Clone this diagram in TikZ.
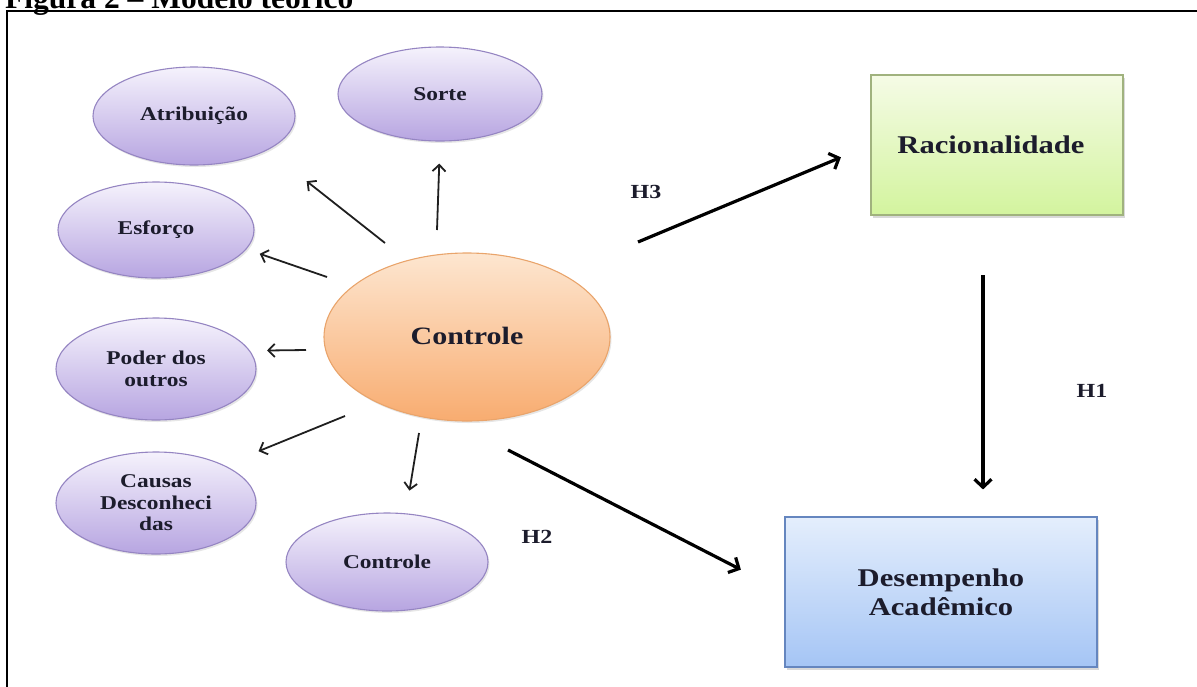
\documentclass[tikz,border=0pt]{standalone}
\usepackage{fontspec}
\setmainfont{Liberation Serif}[FakeStretch=1.2]
\newfontfamily\titlefont{Liberation Serif}
\usetikzlibrary{shapes.geometric,arrows.meta,shadows,calc}

\definecolor{ink}{HTML}{1C1C2C}
\definecolor{lavtop}{HTML}{F5F2FC}
\definecolor{lavbot}{HTML}{B7A5E1}
\definecolor{lavline}{HTML}{9585C2}
\definecolor{ortop}{HTML}{FDE6D0}
\definecolor{orbot}{HTML}{F8AC70}
\definecolor{orline}{HTML}{E9A46B}
\definecolor{grtop}{HTML}{F5FBE6}
\definecolor{grbot}{HTML}{D3F49E}
\definecolor{grline}{HTML}{A0B27E}
\definecolor{bltop}{HTML}{E4EEFC}
\definecolor{blbot}{HTML}{A5C5F5}
\definecolor{blline}{HTML}{6586BF}

\begin{document}
\begin{tikzpicture}[x=1pt,y=-1pt,
  factor/.style={ellipse, draw=lavline, line width=1.1pt,
    top color=lavtop, bottom color=lavbot,
    minimum width=200pt, minimum height=100pt, inner sep=0pt,
    align=center, text=ink, font=\fontsize{19.5}{21.5}\selectfont\bfseries,
    drop shadow={shadow xshift=1.5pt, shadow yshift=-2pt, opacity=0.2}},
  central/.style={ellipse, draw=orline, line width=1.1pt,
    top color=ortop, bottom color=orbot,
    minimum width=286pt, minimum height=168pt, inner sep=0pt,
    text=ink, font=\fontsize{25}{28}\selectfont\bfseries,
    drop shadow={shadow xshift=1.5pt, shadow yshift=-2pt, opacity=0.2}},
  construct/.style={rectangle, line width=1.1pt,
    minimum width=252pt, minimum height=140pt, inner sep=0pt,
    align=center, text=ink, font=\fontsize{25.5}{29}\selectfont\bfseries,
    drop shadow={shadow xshift=2pt, shadow yshift=-2.5pt, opacity=0.3}},
  hyp/.style={text=ink, font=\fontsize{20}{22}\selectfont\bfseries},
  thin/.style={draw=black!88, line width=1.8pt,
    -{Straight Barb[length=6.5pt,width=13pt,line width=1.8pt]}},
  thick/.style={draw=black, line width=3.2pt,
    -{Straight Barb[length=8pt,width=17pt,line width=3.2pt]}}
]
\useasboundingbox (0,0) rectangle (1197,686);
\clip (0,0) rectangle (1197,686);

% caption and frame
\node[anchor=base west, inner sep=0pt, text=black,
      font=\titlefont\fontsize{31.5}{34}\selectfont\bfseries] (title) at (5,8)
  {Figura 2 – Modelo teórico};
\draw[line width=2.6pt] (1205,11) -- (7,11) -- (7,695);

% locus-of-control factors
\node[factor, minimum width=204pt, minimum height=94pt] (sor) at (440,94) {Sorte};
\node[factor, minimum width=202pt, minimum height=98pt] (atr) at (194,116) {Atribuição};
\node[factor, minimum width=196pt, minimum height=96pt] (esf) at (156,230) {Esforço};
\node[factor, minimum height=102pt] (pod) at (156,369) {Poder dos\\outros};
\node[factor, minimum height=102pt] (cau) at (156,503) {Causas\\Desconheci\\das};
\node[factor, minimum width=202pt, minimum height=98pt] (csm) at (387,562) {Controle};

% central construct
\node[central] (ctl) at (467,337) {\raisebox{2pt}{Controle}};

% outcome constructs
\node[construct, draw=grline, top color=grtop, bottom color=grbot] (rac) at (997,145)
  {\hspace*{-12pt}Racionalidade};
\node[construct, draw=blline, top color=bltop, bottom color=blbot,
      minimum width=312pt, minimum height=150pt] (dsp) at (941,592)
  {Desempenho\\Acadêmico};

% arrow tails
\coordinate (tS) at (437,230);
\coordinate (tA) at (385,243);
\coordinate (tE) at (327,277);
\coordinate (tP) at (306,350);
\coordinate (tC) at (345,416);
\coordinate (tK) at (419,433);
\coordinate (tH3) at (638,242);
\coordinate (tH2) at (508,450);
\coordinate (tH1) at (983,275);

% arrows from the central construct to the factors
\draw[thin, shorten >=22pt] (tS) -- (sor.south);
\draw[thin, shorten >=50pt] (tA) -- (atr.-25);
\draw[thin, shorten >=14pt] (tE) -- (esf.-12);
\draw[thin, shorten >=17pt] (tP) -- (pod.11.6);
\draw[thin, shorten >=37pt] (tC) -- (cau.29.5);
\draw[thin, shorten >=23pt] (tK) -- (csm.69.5);

% hypotheses
\draw[thick, shorten >=32pt] (tH3) -- (rac.west);
\draw[thick, shorten >=49pt] (tH2) -- (dsp.west);
\draw[thick, shorten >=27pt] (tH1) -- (tH1 |- dsp.north);

\node[hyp] (h3) at (646,192) {H3};
\node[hyp] (h2) at (537,537) {H2};
\node[hyp] (h1) at (1092,391) {H1};
\end{tikzpicture}
\end{document}
